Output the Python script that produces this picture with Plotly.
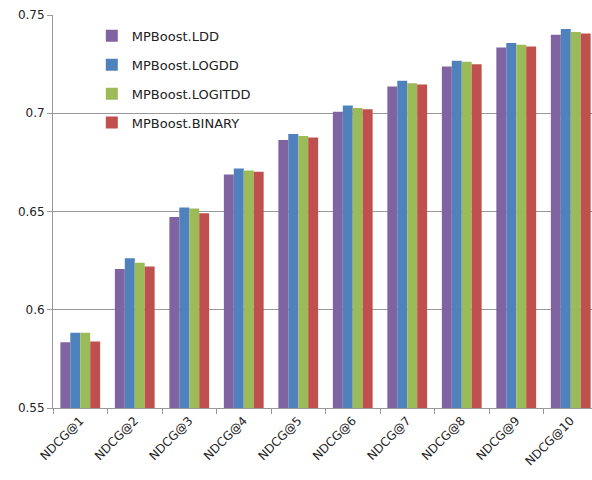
import plotly.graph_objects as go

categories = ["NDCG@1", "NDCG@2", "NDCG@3", "NDCG@4", "NDCG@5",
              "NDCG@6", "NDCG@7", "NDCG@8", "NDCG@9", "NDCG@10"]
ldd = [0.5835, 0.6208, 0.6472, 0.6688, 0.6864, 0.7008, 0.7136, 0.7238, 0.7334, 0.7400]
logdd = [0.5883, 0.6262, 0.6520, 0.6719, 0.6894, 0.7039, 0.7165, 0.7267, 0.7358, 0.7429]
logitdd = [0.5883, 0.6239, 0.6515, 0.6709, 0.6884, 0.7027, 0.7153, 0.7262, 0.7348, 0.7413]
binary = [0.5839, 0.6220, 0.6491, 0.6702, 0.6877, 0.7020, 0.7146, 0.7250, 0.7340, 0.7406]

series = [
    ("MPBoost.LDD", ldd, "#8064A2"),
    ("MPBoost.LOGDD", logdd, "#4F81BD"),
    ("MPBoost.LOGITDD", logitdd, "#9BBB59"),
    ("MPBoost.BINARY", binary, "#C0504D"),
]

fig = go.Figure()
for name, vals, color in series:
    fig.add_trace(go.Bar(
        x=categories, y=vals, name=name, legendgroup=name,
        marker=dict(color=color, line=dict(width=0)),
    ))

fig.update_layout(
    width=592, height=480,
    margin=dict(l=53, r=0, t=15, b=72),
    paper_bgcolor="white", plot_bgcolor="white",
    barmode="group", bargap=0.27, bargroupgap=0,
    font=dict(family="DejaVu Sans", size=12, color="#222"),
    showlegend=True,
    legend=dict(
        x=0.072, y=0.985, xanchor="left", yanchor="top",
        bgcolor="rgba(0,0,0,0)", tracegroupgap=9,
        font=dict(size=13, color="#222"),
        traceorder="grouped",
    ),
    xaxis=dict(
        range=[-0.5, 9.39],
        showline=True, linecolor="#999", linewidth=1,
        ticks="outside", tickson="boundaries", ticklen=5, tickcolor="#999",
        tickangle=-45, tickfont=dict(size=12, color="#222"),
        showgrid=False,
    ),
    yaxis=dict(
        range=[0.55, 0.75], tickvals=[0.55, 0.6, 0.65, 0.7, 0.75],
        ticktext=["0.55", "0.6", "0.65", "0.7", "0.75"],
        showline=True, linecolor="#999", linewidth=1,
        ticks="outside", ticklen=5, tickcolor="#999",
        showgrid=True, gridcolor="#999", gridwidth=1,
        zeroline=False, tickfont=dict(size=12, color="#222"),
    ),
)

fig.write_html("out.html")
